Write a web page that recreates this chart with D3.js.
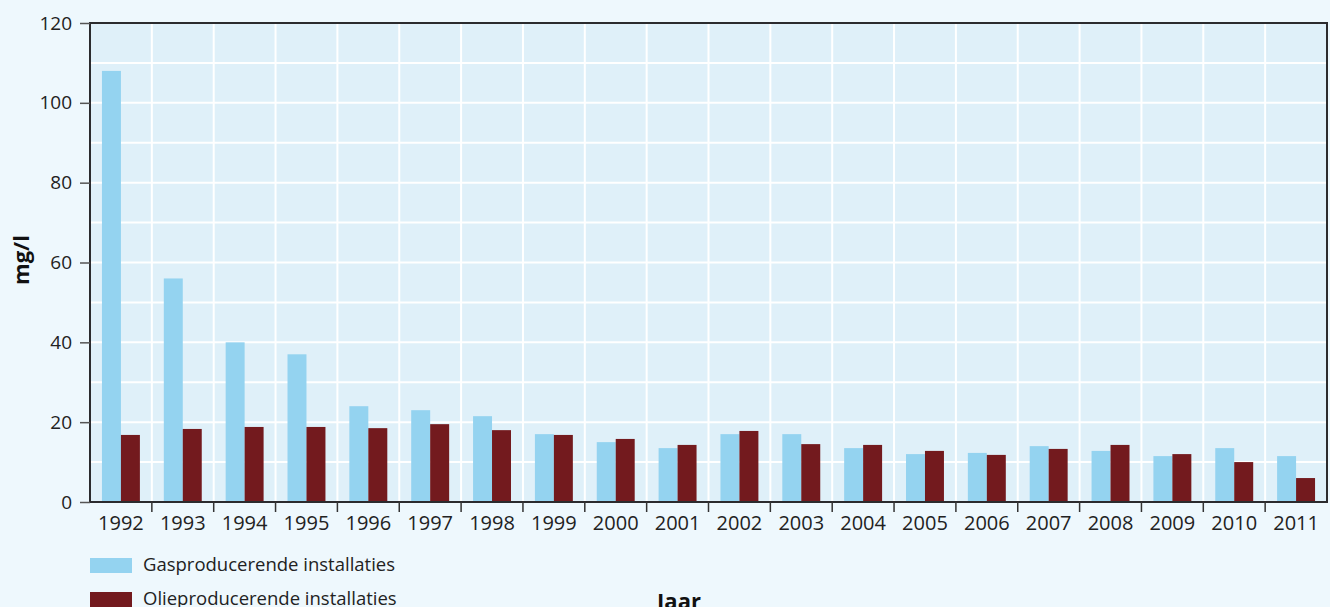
<!DOCTYPE html>
<html><head><meta charset="utf-8">
<script src="https://cdn.jsdelivr.net/npm/d3@7"></script>
<style>
body{margin:0;background:#eef8fd;}
svg{display:block;font-family:"Open Sans",sans-serif;}
</style></head><body>
<svg id="c" width="1330" height="607"></svg>
<script>
const years = ["1992","1993","1994","1995","1996","1997","1998","1999","2000","2001","2002","2003","2004","2005","2006","2007","2008","2009","2010","2011"];
const gas = [108,56,40,37,24,23,21.5,17,15,13.5,17,17,13.5,12,12.3,14,12.8,11.5,13.5,11.5];
const olie = [16.8,18.3,18.8,18.8,18.5,19.5,18,16.8,15.8,14.3,17.8,14.5,14.3,12.8,11.8,13.3,14.3,12,10,6];
const yTicks = [0,20,40,60,80,100,120];
const seriesNames = ["Gasproducerende installaties","Olieproducerende installaties"];
const colors = ["#94d3f0","#731a1e"];

const svg = d3.select("#c");
const L=90, R=1327, T=23, B=502;
const x = d3.scaleBand().domain(years).range([L,R]);
const y = d3.scaleLinear().domain([0,120]).range([B,T]);
const inner = d3.scaleBand().domain([0,1]).range([0,x.bandwidth()]).paddingOuter(0.63).paddingInner(0);

svg.append("rect").attr("x",L).attr("y",T).attr("width",R-L).attr("height",B-T).attr("fill","#dff0f9");

// gridlines
svg.append("g").selectAll("line").data(d3.range(10,120,10)).join("line")
  .attr("x1",L).attr("x2",R).attr("y1",d=>y(d)).attr("y2",d=>y(d))
  .attr("stroke","#fff").attr("stroke-width",2);
svg.append("g").selectAll("line").data(years.slice(1)).join("line")
  .attr("x1",d=>x(d)).attr("x2",d=>x(d)).attr("y1",T).attr("y2",B)
  .attr("stroke","#fff").attr("stroke-width",2);

// bars
const g = svg.append("g");
years.forEach((yr,i)=>{
  [gas[i],olie[i]].forEach((v,j)=>{
    g.append("rect").attr("x",x(yr)+inner(j)).attr("width",inner.bandwidth())
      .attr("y",y(v)).attr("height",B-y(v)).attr("fill",colors[j]);
  });
});

// frame
svg.append("rect").attr("x",L).attr("y",T).attr("width",R-L).attr("height",B-T)
  .attr("fill","none").attr("stroke","#2b2b2e").attr("stroke-width",2);

// y axis
const ya = svg.append("g").attr("transform",`translate(${L},0)`)
  .call(d3.axisLeft(y).tickValues(yTicks).tickSize(10).tickPadding(8));
ya.select(".domain").remove();
ya.selectAll("line").attr("stroke","#555").attr("stroke-width",1.5);
ya.selectAll("text").attr("font-size",19).attr("fill","#222").attr("font-family","Open Sans");

// x axis
const xa = svg.append("g").attr("transform",`translate(0,${B})`)
  .call(d3.axisBottom(x).tickSize(0).tickPadding(14));
xa.select(".domain").remove();
xa.selectAll("text").attr("font-size",20).attr("fill","#222").attr("font-family","Open Sans");
svg.append("g").selectAll("line").data(years.slice(1)).join("line")
  .attr("x1",d=>x(d)).attr("x2",d=>x(d)).attr("y1",B).attr("y2",B+10)
  .attr("stroke","#333").attr("stroke-width",1.5);

// axis titles
svg.append("text").attr("transform","translate(29,260) rotate(-90)").attr("text-anchor","middle")
  .attr("font-size",22).attr("font-weight","bold").attr("fill","#111").text("mg/l");
svg.append("text").attr("x",679).attr("y",609).attr("text-anchor","middle")
  .attr("font-size",22).attr("font-weight","bold").attr("fill","#111").text("Jaar");

// legend
seriesNames.forEach((n,i)=>{
  svg.append("rect").attr("x",90).attr("y",558+i*34).attr("width",42).attr("height",15).attr("fill",colors[i]);
  svg.append("text").attr("x",143).attr("y",571+i*34).attr("font-size",18.5).attr("fill","#222").text(n);
});
</script></body></html>
